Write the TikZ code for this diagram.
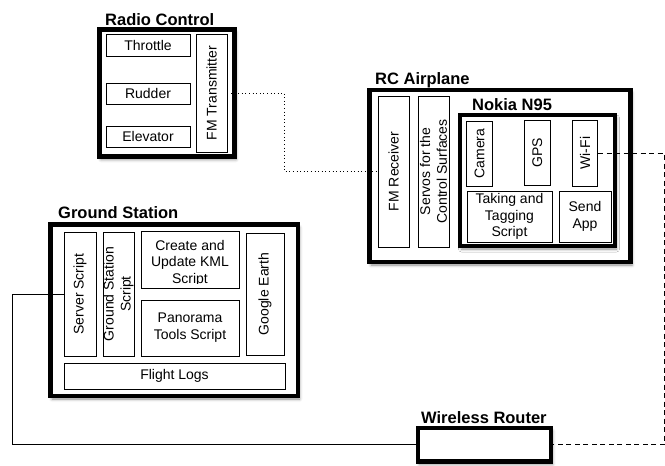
\documentclass[tikz,border=0pt]{standalone}
\usepackage{fontspec}
\usepackage{graphicx}
\setmainfont{Liberation Sans}
\usetikzlibrary{shadows.blur}

\tikzset{
  unit/.style={draw, line width=0.8pt, fill=white, inner sep=0pt, align=center,
    font=\fontsize{14}{16.8}\selectfont},
  vtext/.style={rotate=90, inner sep=0pt, align=center,
    font=\fontsize{14}{16.8}\selectfont},
  group/.style={draw, line width=4.5pt, fill=white, inner sep=0pt,
    blur shadow={shadow xshift=1.5pt, shadow yshift=-3pt,
      shadow blur radius=3pt, shadow opacity=45}},
  grouptitle/.style={anchor=base west, inner sep=0pt,
    font=\bfseries\fontsize{16.5}{19}\selectfont},
  radiolink/.style={line width=0.9pt, dash pattern=on 1pt off 2.6pt},
  wifilink/.style={line width=0.9pt, dash pattern=on 5pt off 3.5pt},
  wirelink/.style={line width=0.9pt},
}

\begin{document}
\begin{tikzpicture}[x=1pt, y=-1pt]
\useasboundingbox (0,0) rectangle (665,466);

% ---- Radio control ----
\node[group, minimum width=135, minimum height=127] (radio) at (167,93) {};
\node[grouptitle] (radiot) at (105,25.5) {Radio Control};
\node[unit, minimum width=84, minimum height=22] (throttle) at (148,45) {Throttle};
\node[unit, minimum width=84, minimum height=21] (rudder) at (148,93.5) {Rudder};
\node[unit, minimum width=84, minimum height=21] (elevator) at (148,136.5) {Elevator};
\node[unit, minimum width=31, minimum height=118,
  label={[vtext]center:FM Transmitter}] (fmtx) at (211.5,93) {};

% ---- RC airplane ----
\node[group, minimum width=261, minimum height=172] (plane) at (500,176) {};
\node[grouptitle] (planet) at (375,84) {RC Airplane};
\node[unit, minimum width=31, minimum height=151,
  label={[vtext]center:FM Receiver}] (fmrx) at (393.5,171.5) {};
\node[unit, minimum width=31, minimum height=151,
  label={[vtext]center:Servos for the\\Control Surfaces}] (servos) at (433.5,171.5) {};

% ---- Phone on board ----
\node[group, line width=4pt, minimum width=155, minimum height=131] (nokia) at (537.5,180.5) {};
\node[grouptitle] (nokiat) at (472,110) {Nokia N95};
\node[unit, minimum width=25.5, minimum height=65,
  label={[vtext]center:Camera}] (camera) at (479.5,153.5) {};
\node[unit, minimum width=25.7, minimum height=65,
  label={[vtext]center:GPS}] (gps) at (537.2,152.5) {};
\node[unit, minimum width=25.4, minimum height=66,
  label={[vtext]center:Wi-Fi}] (wifi) at (585,153) {};
\node[unit, minimum width=85, minimum height=51] (tagging) at (509.5,216.5)
  {Taking and\\Tagging\\Script};
\node[unit, minimum width=52, minimum height=51] (sendapp) at (585,216.5) {Send\\App};

% ---- Ground station ----
\node[group, minimum width=247.5, minimum height=171.5] (ground) at (174.25,310.25) {};
\node[grouptitle] (groundt) at (58,218) {Ground Station};
\node[unit, minimum width=32, minimum height=124,
  label={[vtext]center:Server Script}] (server) at (80,294) {};
\node[unit, minimum width=31, minimum height=124,
  label={[vtext]center:Ground Station\\Script}] (gsscript) at (118.5,294) {};
\node[unit, minimum width=98, minimum height=57] (kml) at (190,259.5) {};
% the text of this box runs past its bottom edge and is cut off there
\begin{scope}
  \clip ([xshift=1pt,yshift=5pt]kml.south west) rectangle ([xshift=-1pt,yshift=-1pt]kml.north east);
  \node[anchor=north, inner sep=0pt, align=center, font=\fontsize{14}{16.8}\selectfont]
    (kmltext) at ([yshift=-9.2pt]kml.north) {Create and\\Update KML\\Script};
\end{scope}
\node[unit, minimum width=98, minimum height=56] (pano) at (190,328) {Panorama\\Tools Script};
\node[unit, minimum width=38, minimum height=122,
  label={[vtext]center:Google Earth}] (gearth) at (265,294) {};
\node[unit, minimum width=221, minimum height=26] (logs) at (174.5,376) {Flight Logs};

% ---- Router ----
\node[group, minimum width=133, minimum height=33.5] (router) at (484.5,444.75) {};
\node[grouptitle] (routert) at (421,423) {Wireless Router};

% ---- Links ----
\coordinate (wiretail) at (12.5,0);
\coordinate (wifitail) at (664,0);
\draw[radiolink] (fmtx.east) -- ++(57,0) |- (fmrx.west);
\draw[wifilink] (wifi.east) -| (wifitail |- router.east) -- (router.east);
\draw[wirelink] (server.west) -| (wiretail |- router.west) -- (router.west);
\end{tikzpicture}
\end{document}
